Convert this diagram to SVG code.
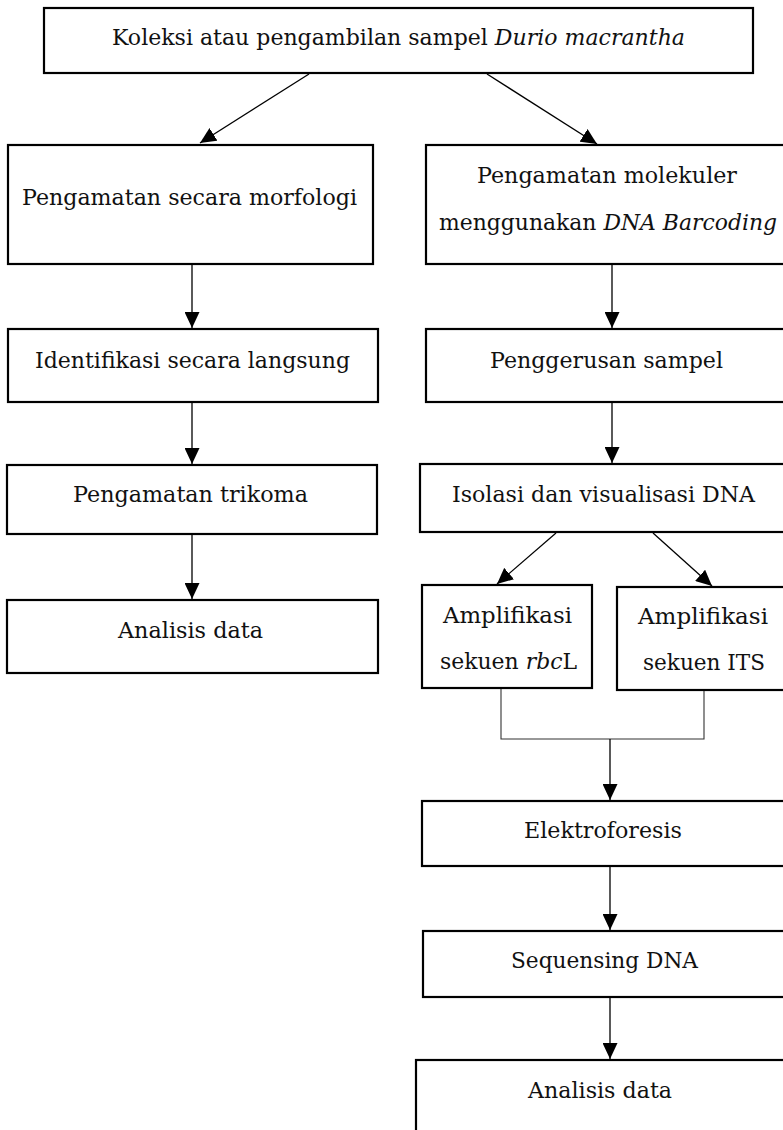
<svg xmlns="http://www.w3.org/2000/svg" width="783" height="1130" viewBox="0 0 783 1130">
<style>
.box{fill:#fff;stroke:#000;stroke-width:2.2}
.t{font-family:"DejaVu Serif","Liberation Serif",serif;font-size:23px;fill:#111}
.i{font-style:italic}
.c{fill:none;stroke:#000;stroke-width:1.3}
.b{fill:none;stroke:#333;stroke-width:1.1}
</style>
<defs>
<marker id="ah" markerUnits="userSpaceOnUse" markerWidth="16" markerHeight="15" refX="16" refY="7.5" orient="auto">
<path d="M0,0 L16,7.5 L0,15 z" fill="#000"/>
</marker>
</defs>
<rect width="783" height="1130" fill="#fff"/>
<g id="connectors">
<line class="c" x1="309" y1="74" x2="200" y2="143" marker-end="url(#ah)"/>
<line class="c" x1="487" y1="74" x2="597" y2="144" marker-end="url(#ah)"/>
<line class="c" x1="192" y1="264" x2="192" y2="328" marker-end="url(#ah)"/>
<line class="c" x1="192" y1="402" x2="192" y2="464" marker-end="url(#ah)"/>
<line class="c" x1="192" y1="534" x2="192" y2="599" marker-end="url(#ah)"/>
<line class="c" x1="612" y1="264" x2="612" y2="328" marker-end="url(#ah)"/>
<line class="c" x1="612" y1="402" x2="612" y2="463" marker-end="url(#ah)"/>
<line class="c" x1="556" y1="533" x2="497" y2="584" marker-end="url(#ah)"/>
<line class="c" x1="653" y1="533" x2="712" y2="586" marker-end="url(#ah)"/>
<polyline class="b" points="501,688 501,739 704,739 704,691"/>
<line class="c" x1="610" y1="739" x2="610" y2="800" marker-end="url(#ah)"/>
<line class="c" x1="610" y1="866" x2="610" y2="930" marker-end="url(#ah)"/>
<line class="c" x1="610" y1="997" x2="610" y2="1059" marker-end="url(#ah)"/>
</g>
<g id="n_koleksi">
<rect class="box" x="44" y="8" width="709" height="65"/>
<text class="t" x="112" y="45" textLength="573" lengthAdjust="spacingAndGlyphs">Koleksi atau pengambilan sampel <tspan class="i">Durio macrantha</tspan></text>
</g>
<g id="n_morfologi">
<rect class="box" x="8" y="145" width="365" height="119"/>
<text class="t" x="22" y="205" textLength="335" lengthAdjust="spacingAndGlyphs">Pengamatan secara morfologi</text>
</g>
<g id="n_identifikasi">
<rect class="box" x="8" y="329" width="370" height="73"/>
<text class="t" x="35" y="368" textLength="315" lengthAdjust="spacingAndGlyphs">Identifikasi secara langsung</text>
</g>
<g id="n_trikoma">
<rect class="box" x="7" y="465" width="370" height="69"/>
<text class="t" x="73" y="502" textLength="235" lengthAdjust="spacingAndGlyphs">Pengamatan trikoma</text>
</g>
<g id="n_analisis_left">
<rect class="box" x="7" y="600" width="371" height="73"/>
<text class="t" x="118" y="638" textLength="145" lengthAdjust="spacingAndGlyphs">Analisis data</text>
</g>
<g id="n_molekuler">
<rect class="box" x="426" y="145" width="370" height="119"/>
<text class="t" x="477" y="183" textLength="260" lengthAdjust="spacingAndGlyphs">Pengamatan molekuler</text>
<text class="t" x="439" y="230" textLength="338" lengthAdjust="spacingAndGlyphs">menggunakan <tspan class="i">DNA Barcoding</tspan></text>
</g>
<g id="n_penggerusan">
<rect class="box" x="426" y="329" width="370" height="73"/>
<text class="t" x="490" y="368" textLength="233" lengthAdjust="spacingAndGlyphs">Penggerusan sampel</text>
</g>
<g id="n_isolasi">
<rect class="box" x="420" y="464" width="376" height="68"/>
<text class="t" x="452" y="502" textLength="303" lengthAdjust="spacingAndGlyphs">Isolasi dan visualisasi DNA</text>
</g>
<g id="n_rbcl">
<rect class="box" x="422" y="585" width="170" height="103"/>
<text class="t" x="443" y="623" textLength="129" lengthAdjust="spacingAndGlyphs">Amplifikasi</text>
<text class="t" x="440" y="669" textLength="137" lengthAdjust="spacingAndGlyphs">sekuen <tspan class="i">rbc</tspan>L</text>
</g>
<g id="n_its">
<rect class="box" x="617" y="587" width="180" height="103"/>
<text class="t" x="638" y="624" textLength="130" lengthAdjust="spacingAndGlyphs">Amplifikasi</text>
<text class="t" x="643" y="670" textLength="122" lengthAdjust="spacingAndGlyphs">sekuen ITS</text>
</g>
<g id="n_elektroforesis">
<rect class="box" x="422" y="801" width="374" height="65"/>
<text class="t" x="524" y="838" textLength="158" lengthAdjust="spacingAndGlyphs">Elektroforesis</text>
</g>
<g id="n_sequensing">
<rect class="box" x="423" y="931" width="373" height="66"/>
<text class="t" x="511" y="968" textLength="187" lengthAdjust="spacingAndGlyphs">Sequensing DNA</text>
</g>
<g id="n_analisis_right">
<rect class="box" x="416" y="1060" width="380" height="80"/>
<text class="t" x="528" y="1098" textLength="144" lengthAdjust="spacingAndGlyphs">Analisis data</text>
</g>
</svg>
